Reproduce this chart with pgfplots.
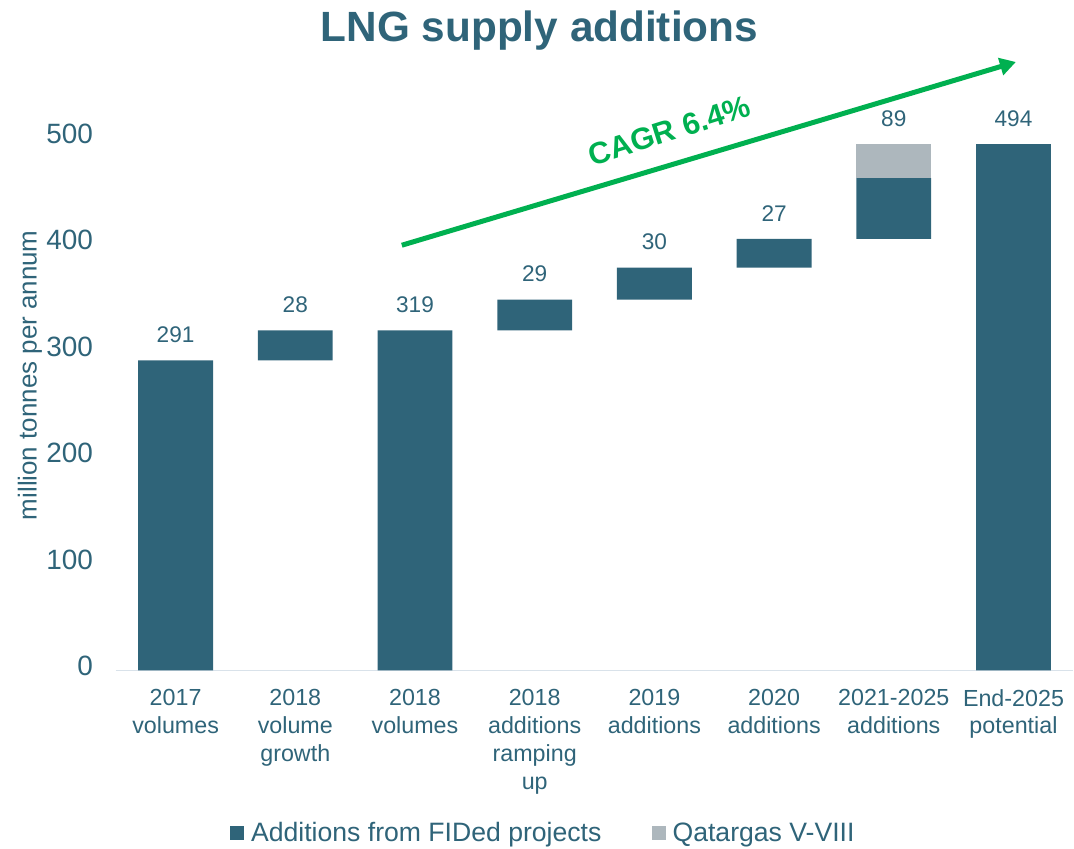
\documentclass[border=0pt]{standalone}
\usepackage{fontspec}
\setmainfont{Liberation Sans}
\usepackage{pgfplots}
\pgfplotsset{compat=1.18}
\usetikzlibrary{arrows.meta}

\definecolor{lngblue}{RGB}{47,100,121}
\definecolor{qgray}{RGB}{173,183,189}
\definecolor{cagr}{RGB}{0,176,80}
\definecolor{axisline}{RGB}{217,226,234}

\pgfplotsset{lngframe/.style={
  width=720pt, height=400.5pt, scale only axis,
  xmin=-0.5, xmax=7.5, ymin=0, ymax=500, clip=false}}

\begin{document}
\begin{tikzpicture}
\begin{axis}[
  lngframe,
  ybar stacked, bar width=0.625,
  axis x line=bottom, axis y line=left,
  axis line style={-},
  x axis line style={draw=axisline, line width=1pt},
  y axis line style={draw=none},
  major tick length=0pt,
  xtick={0,...,7},
  xticklabels={{2017\\volumes},{2018\\volume\\growth},{2018\\volumes},
    {2018\\additions\\ramping\\up},{2019\\additions},{2020\\additions},
    {2021-2025\\additions},{End-2025\\potential}},
  xticklabel style={align=center, anchor=north, inner sep=0pt, yshift=-14pt,
    font=\fontsize{17.5}{21}\selectfont, text=lngblue},
  ytick={0,100,...,500},
  yticklabel style={anchor=east, inner sep=0pt, xshift=-17pt, yshift=3pt,
    font=\fontsize{21}{25}\selectfont, text=lngblue},
  /pgf/number format/assume math mode=true,
  ylabel={million tonnes per annum},
  ylabel style={at={(axis description cs:-0.0896,0.554)}, anchor=center,
    font=\fontsize{19.5}{23}\selectfont, text=lngblue},
  legend image code/.code={\path[#1] (0pt,-5.25pt) rectangle (10.5pt,5.25pt);},
  legend style={at={(axis description cs:0.447,-0.305)}, anchor=center, draw=none,
    legend columns=2, font=\fontsize{20}{24}\selectfont, text=lngblue,
    /tikz/every odd column/.append style={column sep=3pt},
    /tikz/every even column/.append style={column sep=36pt}},
  legend cell align=left,
]
% invisible base of the floating bars
\addplot[fill=none, draw=none, forget plot] coordinates {
  (0,0) (1,291) (2,0) (3,319) (4,348) (5,378) (6,405) (7,0)
};
\addplot[fill=lngblue, draw=none] coordinates {
  (0,291) (1,28) (2,319) (3,29) (4,30) (5,27) (6,57) (7,494)
};
\addlegendentry{Additions from FIDed projects}
\addplot[fill=qgray, draw=none] coordinates {
  (0,0) (1,0) (2,0) (3,0) (4,0) (5,0) (6,32) (7,0)
};
\addlegendentry{Qatargas V-VIII}

\draw[cagr, line width=3.75pt, -{Triangle[length=12pt, width=13pt]}]
  (axis cs:1.89,399) -- (axis cs:7.02,571);
\node[anchor=base, rotate=17.6, font=\bfseries\fontsize{23}{26}\selectfont, text=cagr]
  at (axis cs:4.15,497) {CAGR 6.4\%};
\node[anchor=base, font=\bfseries\fontsize{31.8}{36}\selectfont, text=lngblue]
  at (axis cs:3.04,590) {LNG supply additions};
\path (axis cs:-1.467,-166.7) rectangle (axis cs:7.483,629.2);
\end{axis}

% value labels on top of each bar
\begin{axis}[lngframe, hide axis]
\addplot[draw=none, mark=none, nodes near coords, point meta=explicit symbolic,
  every node near coord/.append style={anchor=south, inner sep=0pt, yshift=13pt,
    font=\fontsize{17}{20}\selectfont, text=lngblue}] coordinates {
  (0,291) [291] (1,319) [28] (2,319) [319] (3,348) [29]
  (4,378) [30] (5,405) [27] (6,494) [89] (7,494) [494]
};
\end{axis}
\end{tikzpicture}
\end{document}
